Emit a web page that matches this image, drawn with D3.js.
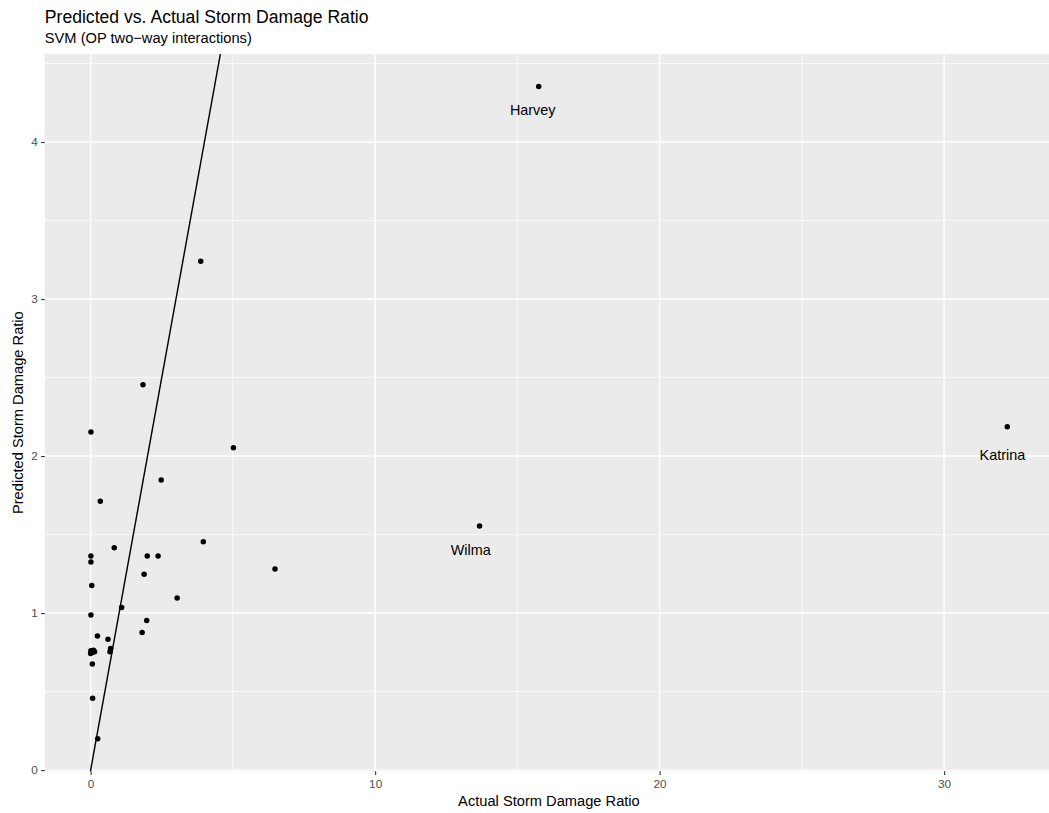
<!DOCTYPE html>
<html>
<head>
<meta charset="utf-8">
<script src="https://cdn.jsdelivr.net/npm/d3@7"></script>
<style>
  body { margin: 0; background: #fff; }
  svg { display: block; font-family: "Liberation Sans", Arial, Helvetica, sans-serif; }
</style>
</head>
<body>
<div class="chart-container"></div>
<script>
// storm damage: actual vs predicted
const actual = [
  0.01, 5.02, 2.48, 0.34, 0.83, 3.96, 0.01, 0.01, 1.99, 2.37,
  1.88, 0.04, 3.04, 1.09, 0.01, 1.97, 1.81, 0.24, 0.61, 0.70,
  0.68, 0.01, 0.10, 0.14, 0.00, 0.06, 0.06, 0.07, 0.25, 3.87,
  1.84, 6.48, 15.75, 13.67, 32.22
];
const predicted = [
  2.153, 2.053, 1.847, 1.713, 1.416, 1.454, 1.363, 1.325, 1.363, 1.363,
  1.248, 1.176, 1.096, 1.036, 0.987, 0.953, 0.877, 0.854, 0.834, 0.775,
  0.754, 0.760, 0.764, 0.753, 0.743, 0.749, 0.675, 0.457, 0.200, 3.240,
  2.454, 1.280, 4.353, 1.555, 2.187
];
// labelled storms, label anchor in data units
const stormNames = ["Harvey", "Wilma", "Katrina"];
const stormLabelX = [15.54, 13.36, 32.05];
const stormLabelY = [4.206, 1.404, 2.009];

const xBreaks = [0, 10, 20, 30];
const xMinor = [5, 15, 25];
const yBreaks = [0, 1, 2, 3, 4];
const yMinor = [0.5, 1.5, 2.5, 3.5, 4.5];

const width = 1049, height = 813;
const margin = {left: 44.8, top: 54, bottom: 813 - 771.3};
const panelW = 1008.3;
const panelH = height - margin.top - margin.bottom;

const points = actual.map((a, i) => ({x: a, y: predicted[i]}));

// ggplot style 5% expansion
const expand = (ext) => {
  const pad = (ext[1] - ext[0]) * 0.05;
  return [ext[0] - pad, ext[1] + pad];
};

const x = d3.scaleLinear()
  .domain(expand(d3.extent(actual)))
  .range([0, panelW]);
const y = d3.scaleLinear()
  .domain(expand(d3.extent(predicted)))
  .range([panelH, 0]);

const svg = d3.select(".chart-container")
  .append("svg")
  .attr("width", width)
  .attr("height", height);

svg.append("rect")
  .attr("width", width)
  .attr("height", height)
  .attr("fill", "#fff");

const g = svg.append("g")
  .attr("transform", `translate(${margin.left},${margin.top})`);

svg.append("defs").append("clipPath")
  .attr("id", "panel-clip")
  .append("rect")
  .attr("width", panelW)
  .attr("height", panelH);

g.append("rect")
  .attr("width", panelW)
  .attr("height", panelH)
  .attr("fill", "#EBEBEB");

// minor grid
g.append("g")
  .selectAll("line.vminor")
  .data(xMinor)
  .enter().append("line")
  .attr("x1", d => x(d)).attr("x2", d => x(d))
  .attr("y1", 0).attr("y2", panelH)
  .attr("stroke", "#fff")
  .attr("stroke-width", 0.71);
g.append("g")
  .selectAll("line.hminor")
  .data(yMinor)
  .enter().append("line")
  .attr("x1", 0).attr("x2", panelW)
  .attr("y1", d => y(d)).attr("y2", d => y(d))
  .attr("stroke", "#fff")
  .attr("stroke-width", 0.71);

// major grid
g.append("g")
  .selectAll("line")
  .data(xBreaks)
  .enter().append("line")
  .attr("x1", d => x(d)).attr("x2", d => x(d))
  .attr("y1", 0).attr("y2", panelH)
  .attr("stroke", "#fff")
  .attr("stroke-width", 1.42);
g.append("g")
  .selectAll("line")
  .data(yBreaks)
  .enter().append("line")
  .attr("x1", 0).attr("x2", panelW)
  .attr("y1", d => y(d)).attr("y2", d => y(d))
  .attr("stroke", "#fff")
  .attr("stroke-width", 1.42);

// y = x reference line
const lo = Math.min(x.domain()[0], y.domain()[0]);
const hi = Math.max(x.domain()[1], y.domain()[1]);
g.append("line")
  .attr("clip-path", "url(#panel-clip)")
  .attr("x1", x(lo)).attr("y1", y(lo))
  .attr("x2", x(hi)).attr("y2", y(hi))
  .attr("stroke", "#000")
  .attr("stroke-width", 1.42);

// points
g.append("g")
  .selectAll("circle")
  .data(points)
  .enter().append("circle")
  .attr("cx", d => x(d.x))
  .attr("cy", d => y(d.y))
  .attr("r", 2.75)
  .attr("fill", "#000");

// storm labels
g.append("g")
  .selectAll("text")
  .data(stormNames)
  .enter().append("text")
  .attr("x", (d, i) => x(stormLabelX[i]))
  .attr("y", (d, i) => y(stormLabelY[i]))
  .attr("dy", "0.35em")
  .attr("text-anchor", "middle")
  .style("font-size", "14.4px")
  .attr("fill", "#000")
  .text(d => d);

// axes
const tickLen = 3.67;
const xAxis = g.append("g")
  .attr("transform", `translate(0,${panelH})`)
  .call(d3.axisBottom(x).tickValues(xBreaks).tickSize(tickLen).tickPadding(5).tickFormat(d3.format("d")));
const yAxis = g.append("g")
  .call(d3.axisLeft(y).tickValues(yBreaks).tickSize(tickLen).tickPadding(3.4).tickFormat(d3.format("d")));

[xAxis, yAxis].forEach(ax => {
  ax.select(".domain").remove();
  ax.selectAll(".tick line").attr("stroke", "#333333").attr("stroke-width", 1.1);
  ax.selectAll(".tick text")
    .attr("fill", "#4D4D4D")
    .style("font-size", "11.73px")
    .style("font-family", "\"Liberation Sans\", Arial, Helvetica, sans-serif");
});

// axis titles
svg.append("text")
  .attr("x", margin.left + panelW / 2)
  .attr("y", 806)
  .attr("text-anchor", "middle")
  .style("font-size", "14.67px")
  .text("Actual Storm Damage Ratio");

svg.append("text")
  .attr("transform", `translate(23,${margin.top + panelH / 2}) rotate(-90)`)
  .attr("text-anchor", "middle")
  .style("font-size", "14.67px")
  .text("Predicted Storm Damage Ratio");

// title + subtitle
svg.append("text")
  .attr("x", margin.left)
  .attr("y", 22.7)
  .style("font-size", "17.6px")
  .text("Predicted vs. Actual Storm Damage Ratio");

svg.append("text")
  .attr("x", margin.left)
  .attr("y", 42.5)
  .style("font-size", "14.67px")
  .text("SVM (OP two\u2212way interactions)");
</script>
</body>
</html>
